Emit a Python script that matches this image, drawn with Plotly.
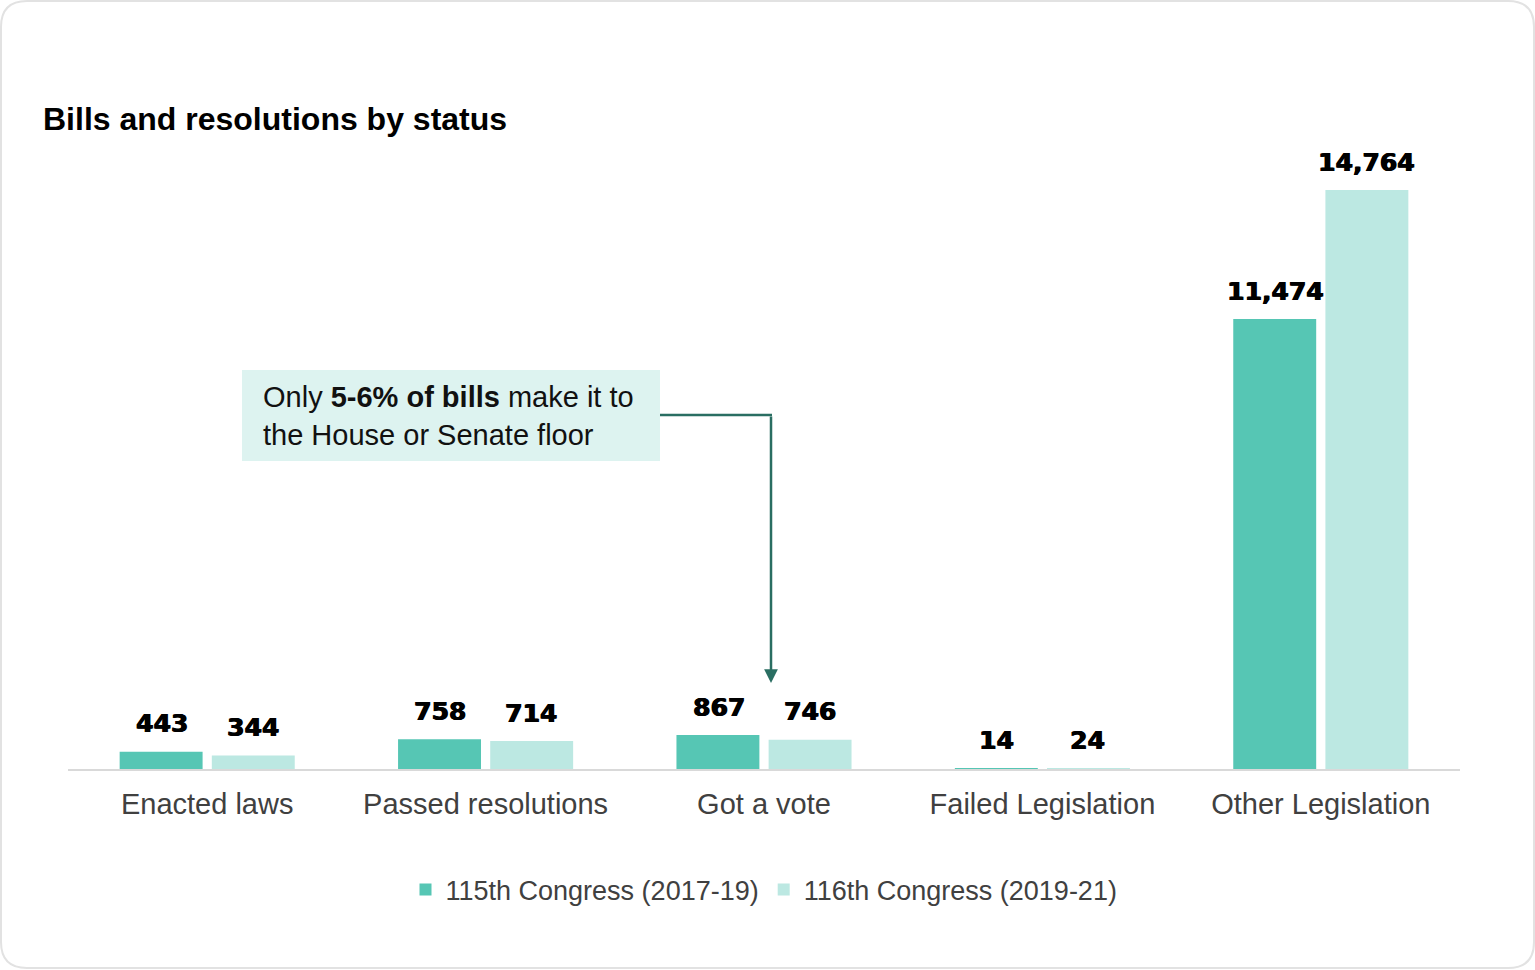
import plotly.graph_objects as go

# Bill counts by status for two Congresses
categories = ["Enacted laws", "Passed resolutions", "Got a vote", "Failed Legislation", "Other Legislation"]
series_names = ["115th Congress (2017-19)", "116th Congress (2019-21)"]
congress_115 = [443, 758, 867, 14, 11474]
congress_116 = [344, 714, 746, 24, 14764]

colors = ["#56C6B4", "#BCE8E2"]
label_font = dict(family="Arial Black, DejaVu Sans", size=25, color="#000000",
                  shadow="0.8px 0px 0px #000000, -0.4px 0px 0px #000000")
base_font = "Liberation Sans, Arial, sans-serif"

fig = go.Figure()
for name, vals, col in zip(series_names, [congress_115, congress_116], colors):
    fig.add_trace(go.Bar(
        x=categories, y=vals, name=name,
        marker=dict(color=col, line=dict(width=0)),
        hoverinfo="x+y",
    ))

# value labels above each bar
annotations = []
for shift, vals in zip([-45.5, 45.5], [congress_115, congress_116]):
    for cat, v in zip(categories, vals):
        annotations.append(dict(
            x=cat, y=v, xref="x", yref="y", text=f"<b>{v:,}</b>",
            showarrow=False, xshift=shift, yshift=28, yanchor="middle",
            xanchor="center", font=label_font,
        ))

# plot area in pixels: x 68..1460, y 150..769
L, R, T, B = 68, 1460, 150, 769
W, H = R - L, B - T


def px(xp):
    return (xp - L) / W


def py(yp):
    return (B - yp) / H


# callout text
annotations.append(dict(
    x=px(261), y=py(416), xref="paper", yref="paper",
    text="Only <b>5-6% of bills</b> make it to<br>the House or Senate floor",
    showarrow=False, xanchor="left", yanchor="middle", align="left",
    font=dict(family=base_font, size=29, color="#111111"),
))
# arrow pointing down to "Got a vote"
annotations.append(dict(
    x=px(771), y=py(683), xref="paper", yref="paper",
    ax=0, ay=-(683 - 415),
    text="", showarrow=True, arrowhead=2, arrowsize=1.1, arrowwidth=2.5,
    arrowcolor="#2A6E62",
))

# rounded outer frame
x0, y0, x1, y1, r = 1, 1, 1534, 968, 26
frame_path = (
    f"M {px(x0 + r)},{py(y0)} L {px(x1 - r)},{py(y0)} "
    f"Q {px(x1)},{py(y0)} {px(x1)},{py(y0 + r)} "
    f"L {px(x1)},{py(y1 - r)} Q {px(x1)},{py(y1)} {px(x1 - r)},{py(y1)} "
    f"L {px(x0 + r)},{py(y1)} Q {px(x0)},{py(y1)} {px(x0)},{py(y1 - r)} "
    f"L {px(x0)},{py(y0 + r)} Q {px(x0)},{py(y0)} {px(x0 + r)},{py(y0)} Z"
)

shapes = [
    dict(type="path", xref="paper", yref="paper", path=frame_path,
         line=dict(color="#E2E2E2", width=2), fillcolor="rgba(0,0,0,0)", layer="below"),
    dict(type="rect", xref="paper", yref="paper",
         x0=px(242), x1=px(660), y0=py(461), y1=py(370),
         fillcolor="#DDF3F0", line=dict(width=0), layer="below"),
    dict(type="line", xref="paper", yref="paper",
         x0=px(660), x1=px(772), y0=py(415), y1=py(415),
         line=dict(color="#2A6E62", width=2.5)),
]

fig.update_layout(
    width=1535, height=970,
    margin=dict(l=L, r=1535 - R, t=T, b=970 - B),
    paper_bgcolor="white", plot_bgcolor="white",
    barmode="group", bargap=0.338, bargroupgap=0.1,
    title=dict(text="<b>Bills and resolutions by status</b>", x=43 / 1535, xanchor="left",
               y=1 - 119 / 970, yanchor="middle",
               font=dict(family=base_font, size=32, color="#000000")),
    xaxis=dict(showline=True, linecolor="#D9D9D9", linewidth=2, ticks="",
               tickfont=dict(family=base_font, size=29, color="#404040"),
               ticklabelstandoff=8, showgrid=False, zeroline=False),
    yaxis=dict(range=[0, H / (579 / 14764)], visible=False, showgrid=False, zeroline=False),
    legend=dict(orientation="h", x=0.5, xanchor="center", y=py(890), yanchor="middle",
                font=dict(family=base_font, size=27, color="#404040"),
                itemwidth=30, traceorder="normal"),
    annotations=annotations,
    shapes=shapes,
    showlegend=True,
)

fig.write_html("out.html")
